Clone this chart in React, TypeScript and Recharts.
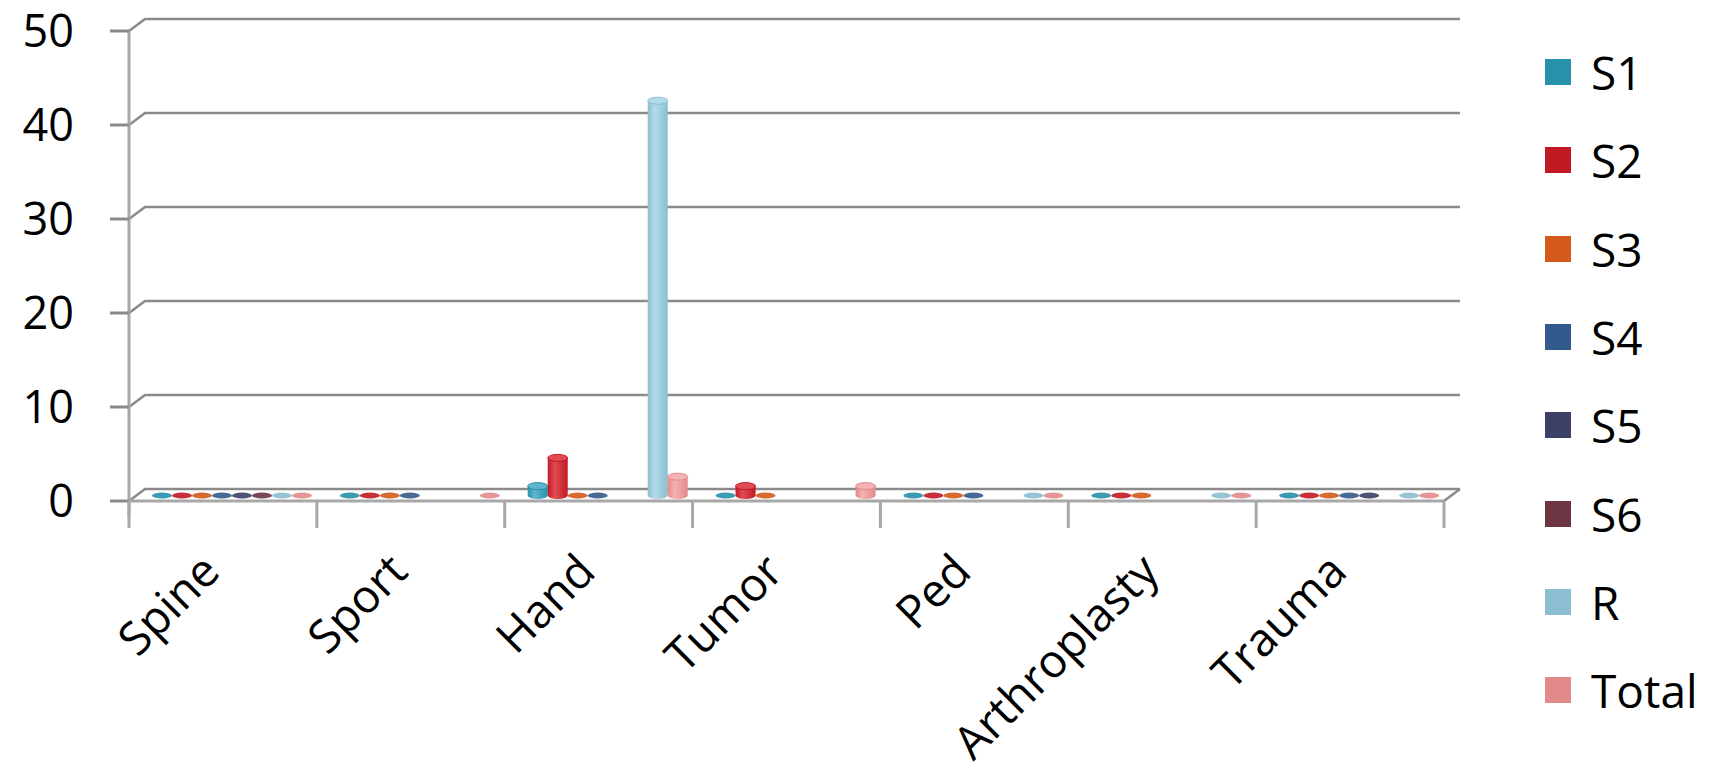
import React from "react";
import { BarChart, Bar, XAxis, YAxis, CartesianGrid, Legend } from "recharts";

const categories = ["Spine", "Sport", "Hand", "Tumor", "Ped", "Arthroplasty", "Trauma"];
const s1 = [0, 0, 1, 0, 0, 0, 0];
const s2 = [0, 0, 4, 1, 0, 0, 0];
const s3 = [0, 0, 0, 0, 0, 0, 0];
const s4 = [0, 0, 0, null, 0, null, 0];
const s5 = [0, null, null, null, null, null, 0];
const s6 = [0, null, null, null, null, null, null];
const r = [0, null, 42, null, 0, 0, 0];
const total = [0, 0, 2, 1, 0, 0, 0];
const yTicks = [0, 10, 20, 30, 40, 50];

const series = [
  { key: "S1", values: s1, color: "#2790AA", light: "#5fb6cc" },
  { key: "S2", values: s2, color: "#C21A24", light: "#e04a52" },
  { key: "S3", values: s3, color: "#D35A1A", light: "#ec8a50" },
  { key: "S4", values: s4, color: "#335A8C", light: "#5d84b6" },
  { key: "S5", values: s5, color: "#3C3F66", light: "#64688f" },
  { key: "S6", values: s6, color: "#6D3542", light: "#955c69" },
  { key: "R", values: r, color: "#8BBED0", light: "#b3dcea" },
  { key: "Total", values: total, color: "#E28A8A", light: "#f4b2b2" },
];

const data = categories.map((name, i) => {
  const row: any = { name };
  series.forEach((s) => (row[s.key] = s.values[i]));
  return row;
});

const W = 1727;
const H = 776;
const LEFT = 129;
const RIGHT = 283;
const TOP = 31;
const BOTTOM = 275;
const BAND = (W - LEFT - RIGHT) / categories.length;
// 3d depth offsets
const BACK_X = 16;
const BACK_Y = 12;
const MID_X = 9;
const MID_Y = 5.5;
const FONT = "'Open Sans', sans-serif";
const GRID = "#8a8a8a";
const AXIS = "#a8a8a8";

const Cylinder = (props: any) => {
  const { x, y, width, height, payload, k, color, light } = props;
  const v = payload ? payload[k] : null;
  if (v === null || v === undefined) return null;
  const cx = x + width / 2 + MID_X;
  const rx = width / 2;
  const bottom = y + height - MID_Y;
  if (v === 0) {
    return <ellipse cx={cx} cy={bottom} rx={rx} ry={3} fill={color} opacity={0.9} />;
  }
  const top = y - MID_Y;
  return (
    <g>
      <ellipse cx={cx} cy={bottom} rx={rx} ry={3.5} fill={`url(#grad-${k})`} />
      <rect x={x + MID_X} y={top} width={width} height={bottom - top} fill={`url(#grad-${k})`} />
      <ellipse cx={cx} cy={top} rx={rx} ry={3.5} fill={light} stroke={color} strokeWidth={1} />
    </g>
  );
};

const gridLine = (props: any) => {
  const { x1, x2, y1, index } = props;
  const isBase = Math.abs(y1 - (H - BOTTOM)) < 1;
  return (
    <g key={`gl-${index}`}>
      <path
        d={`M${x1},${y1} L${x1 + BACK_X},${y1 - BACK_Y} L${x2 + BACK_X},${y1 - BACK_Y}`}
        stroke={GRID}
        strokeWidth={2.5}
        fill="none"
      />
      {isBase && (
        <g>
          <path
            d={`M${x2},${y1} L${x2 + BACK_X},${y1 - BACK_Y}`}
            stroke={GRID}
            strokeWidth={2.5}
            fill="none"
          />
          <line x1={x1} y1={y1} x2={x1} y2={y1 + 17} stroke={AXIS} strokeWidth={3} />
        </g>
      )}
    </g>
  );
};

const XTick = (props: any) => {
  const { x, payload, index } = props;
  const yAxis = H - BOTTOM;
  const left = x - BAND / 2;
  const ax = x - 1;
  const ay = yAxis + 73;
  return (
    <g>
      <line x1={left} y1={yAxis} x2={left} y2={yAxis + 27} stroke={AXIS} strokeWidth={3} />
      {index === categories.length - 1 && (
        <line x1={x + BAND / 2} y1={yAxis} x2={x + BAND / 2} y2={yAxis + 27} stroke={AXIS} strokeWidth={3} />
      )}
      <text
        x={ax}
        y={ay}
        textAnchor="end"
        transform={`rotate(-45, ${ax}, ${ay})`}
        fontSize={46}
        fontFamily={FONT}
        fill="#000"
      >
        {payload.value}
      </text>
    </g>
  );
};

const LegendBox = () => (
  <div style={{ fontFamily: FONT, fontSize: 46, color: "#000" }}>
    {series.map((s) => (
      <div key={s.key} style={{ display: "flex", alignItems: "center", height: 88.3 }}>
        <div style={{ width: 26, height: 26, background: s.color, marginRight: 20 }} />
        <span style={{ lineHeight: 1 }}>{s.key}</span>
      </div>
    ))}
  </div>
);

const App = () => {
  return (
    <div style={{ position: "absolute", left: 0, top: 0, background: "#fff" }}>
      <BarChart
        width={W}
        height={H}
        data={data}
        margin={{ top: TOP, right: RIGHT, bottom: BOTTOM - 30, left: 0 }}
        barCategoryGap={14}
        barGap={0}
      >
        <defs>
          {series.map((s) => (
            <linearGradient key={s.key} id={`grad-${s.key}`} x1="0" y1="0" x2="1" y2="0">
              <stop offset="0%" stopColor={s.color} />
              <stop offset="35%" stopColor={s.light} />
              <stop offset="100%" stopColor={s.color} />
            </linearGradient>
          ))}
        </defs>
        <CartesianGrid vertical={false} horizontal={gridLine} />
        <XAxis
          dataKey="name"
          height={30}
          axisLine={{ stroke: AXIS, strokeWidth: 3 }}
          tickLine={false}
          tick={<XTick />}
          interval={0}
        />
        <YAxis
          width={LEFT}
          domain={[0, 50]}
          ticks={yTicks}
          axisLine={{ stroke: AXIS, strokeWidth: 3 }}
          tickLine={{ stroke: GRID, strokeWidth: 3 }}
          tickSize={19}
          tickMargin={36}
          tick={{ fontSize: 45, fontFamily: FONT, fill: "#000" }}
        />
        <Legend
          layout="vertical"
          align="center"
          verticalAlign="middle"
          content={<LegendBox />}
          wrapperStyle={{ left: 1545, top: 28, width: 180 }}
        />
        {series.map((s) => (
          <Bar
            key={s.key}
            dataKey={s.key}
            fill={s.color}
            isAnimationActive={false}
            shape={(p: any) => <Cylinder {...p} k={s.key} color={s.color} light={s.light} />}
          />
        ))}
      </BarChart>
    </div>
  );
};

export default App;
